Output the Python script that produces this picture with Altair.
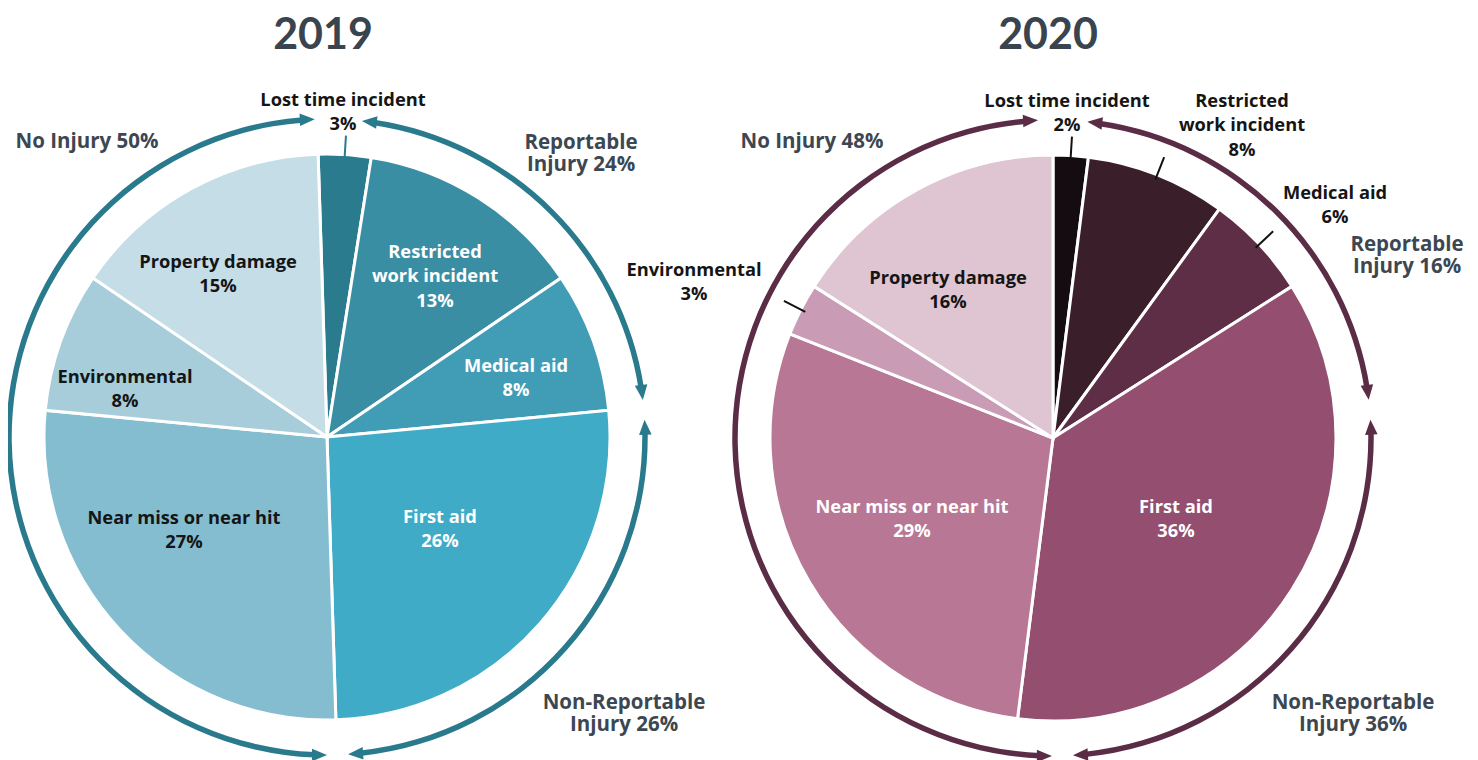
import math
import altair as alt
import pandas as pd

# ---------------- data ----------------
categories = ["Lost time incident", "Restricted work incident", "Medical aid",
              "First aid", "Near miss or near hit", "Environmental", "Property damage"]
values_2019 = [3, 13, 8, 26, 27, 8, 15]
values_2020 = [2, 8, 6, 36, 29, 3, 16]

groups = ["No Injury", "Reportable Injury", "Non-Reportable Injury"]
group_pct_2019 = [50, 24, 26]
group_pct_2020 = [48, 16, 36]

# outer arrow arcs, tip-to-tip, degrees clockwise from 12 o'clock
arc_start_2019 = [180.0, 6.3, 86.9]
arc_end_2019 = [357.8, 83.3, 176.2]
arc_start_2020 = [180.2, 6.2, 86.7]
arc_end_2020 = [357.3, 83.1, 176.4]

# ---------------- styles / layout ----------------
W, H = 1462, 752
colors_2019 = ["#2b7b8f", "#3a8ea4", "#419cb6", "#40abc7", "#84bdd0", "#a7cdda", "#c5dde7"]
colors_2020 = ["#140c10", "#3a1f2b", "#5d2e46", "#934e70", "#b77795", "#c99bb5", "#dfc4d1"]
ring_color = {"2019": "#2a7a8e", "2020": "#5b2c46"}
leader_color = {"2019": "#2a7a8e", "2020": "#111111"}
centers = {"2019": (319, 429), "2020": (1045, 430)}
rotation = {"2019": -1.8, "2020": 0.0}
PIE_R = 283
RING_R = 318
RING_W = 5.5
ARROW_BACK = 2.2  # degrees the ring stops short of an arrow tip
SLICE_LH = 24.5
GROUP_LH = 22

years = {
    "2019": (values_2019, colors_2019, arc_start_2019, arc_end_2019),
    "2020": (values_2020, colors_2020, arc_start_2020, arc_end_2020),
}

theta_scale = alt.Scale(domain=[0, 360], range=[0, 2 * math.pi], nice=False, zero=False)
xs = alt.Scale(domain=[0, W], range=[0, W], nice=False, zero=False)
ys = alt.Scale(domain=[0, H], range=[0, H], nice=False, zero=False)


def polar(cx, cy, r, deg):
    a = math.radians(deg)
    return cx + r * math.sin(a), cy - r * math.cos(a)


layers = []
arrow_rows = []
leader_rows = []
leader_cats = {"2019": ["Lost time incident"],
               "2020": ["Lost time incident", "Restricted work incident", "Medical aid", "Environmental"]}

for yr, (vals, cols, a0s, a1s) in years.items():
    cx, cy = centers[yr]
    rows = []
    cum = 0.0
    for cat, v, c in zip(categories, vals, cols):
        t0 = cum * 3.6 + rotation[yr]
        cum += v
        t1 = cum * 3.6 + rotation[yr]
        rows.append({"category": cat, "value": v, "t0": t0, "t1": t1, "color": c})
        if cat in leader_cats[yr]:
            mid = (t0 + t1) / 2
            x1, y1 = polar(cx, cy, 278, mid)
            x2, y2 = polar(cx, cy, 302, mid)
            leader_rows.append({"x": x1, "y": y1, "x2": x2, "y2": y2, "c": leader_color[yr]})
    sdf = pd.DataFrame(rows)
    layers.append(
        alt.Chart(sdf).mark_arc(outerRadius=PIE_R, innerRadius=0, stroke="white", strokeWidth=3).encode(
            x=alt.value(cx), y=alt.value(cy),
            theta=alt.Theta("t0:Q", scale=theta_scale), theta2="t1:Q",
            color=alt.Color("color:N", scale=None),
            tooltip=["category:N", "value:Q"],
        )
    )
    ring = pd.DataFrame({"group": groups, "a0": a0s, "a1": a1s})
    ring["r0"] = ring["a0"] + ARROW_BACK
    ring["r1"] = ring["a1"] - ARROW_BACK
    layers.append(
        alt.Chart(ring).mark_arc(innerRadius=RING_R - RING_W / 2, outerRadius=RING_R + RING_W / 2,
                                 color=ring_color[yr]).encode(
            x=alt.value(cx), y=alt.value(cy),
            theta=alt.Theta("r0:Q", scale=theta_scale), theta2="r1:Q",
        )
    )
    for a0, a1 in zip(a0s, a1s):
        px, py = polar(cx, cy, RING_R, a0)
        arrow_rows.append({"px": px, "py": py, "rot": (a0 + 270) % 360, "c": ring_color[yr]})
        px, py = polar(cx, cy, RING_R, a1)
        arrow_rows.append({"px": px, "py": py, "rot": (a1 + 90) % 360, "c": ring_color[yr]})

arrows = pd.DataFrame(arrow_rows)
layers.append(
    alt.Chart(arrows).mark_point(shape="M0,0L0.42,1L-0.42,1Z", size=900, filled=True,
                                 opacity=1, strokeWidth=0).encode(
        x=alt.X("px:Q", scale=xs, axis=None),
        y=alt.Y("py:Q", scale=ys, axis=None),
        angle=alt.Angle("rot:Q", scale=None),
        color=alt.Color("c:N", scale=None),
    )
)

leaders = pd.DataFrame(leader_rows)
layers.append(
    alt.Chart(leaders).mark_rule(strokeWidth=2).encode(
        x=alt.X("x:Q", scale=xs, axis=None), y=alt.Y("y:Q", scale=ys, axis=None),
        x2="x2:Q", y2="y2:Q",
        color=alt.Color("c:N", scale=None),
    )
)

# ---------------- labels (x, y = centre of the text block) ----------------
DARK = "#151515"
SLATE = "#3c4751"
slice_labels = pd.DataFrame([
    # 2019
    {"x": 335, "y": 105, "t": "Lost time incident\n3%", "c": DARK},
    {"x": 427, "y": 269, "t": "Restricted\nwork incident\n13%", "c": "white"},
    {"x": 508, "y": 371, "t": "Medical aid\n8%", "c": "white"},
    {"x": 432, "y": 522, "t": "First aid\n26%", "c": "white"},
    {"x": 176, "y": 523, "t": "Near miss or near hit\n27%", "c": DARK},
    {"x": 117, "y": 382, "t": "Environmental\n8%", "c": DARK},
    {"x": 210, "y": 267, "t": "Property damage\n15%", "c": DARK},
    # 2020
    {"x": 1059, "y": 106, "t": "Lost time incident\n2%", "c": DARK},
    {"x": 1234, "y": 118, "t": "Restricted\nwork incident\n8%", "c": DARK},
    {"x": 1327, "y": 198, "t": "Medical aid\n6%", "c": DARK},
    {"x": 686, "y": 275, "t": "Environmental\n3%", "c": DARK},
    {"x": 940, "y": 283, "t": "Property damage\n16%", "c": DARK},
    {"x": 904, "y": 512, "t": "Near miss or near hit\n29%", "c": "white"},
    {"x": 1168, "y": 512, "t": "First aid\n36%", "c": "white"},
])
slice_labels["lines"] = slice_labels["t"].str.split("\n")
slice_labels["y0"] = slice_labels["y"] - (slice_labels["lines"].str.len() - 1) * SLICE_LH / 2

group_labels = pd.DataFrame([
    {"x": 79, "y": 134, "t": f"{groups[0]} {group_pct_2019[0]}%"},
    {"x": 573, "y": 146, "t": f"Reportable\nInjury {group_pct_2019[1]}%"},
    {"x": 616, "y": 706, "t": f"Non-Reportable\nInjury {group_pct_2019[2]}%"},
    {"x": 804, "y": 134, "t": f"{groups[0]} {group_pct_2020[0]}%"},
    {"x": 1399, "y": 248, "t": f"Reportable\nInjury {group_pct_2020[1]}%"},
    {"x": 1345, "y": 706, "t": f"Non-Reportable\nInjury {group_pct_2020[2]}%"},
])
group_labels["lines"] = group_labels["t"].str.split("\n")
group_labels["y0"] = group_labels["y"] - (group_labels["lines"].str.len() - 1) * GROUP_LH / 2

titles = pd.DataFrame([
    {"x": 315, "y": 28, "t": "2019"},
    {"x": 1040, "y": 28, "t": "2020"},
])

layers.append(
    alt.Chart(slice_labels).mark_text(font="Open Sans", fontWeight="bold", fontSize=18.3,
                                      lineHeight=SLICE_LH, baseline="middle", align="center").encode(
        x=alt.X("x:Q", scale=xs, axis=None), y=alt.Y("y0:Q", scale=ys, axis=None),
        text="lines", color=alt.Color("c:N", scale=None),
    )
)
layers.append(
    alt.Chart(group_labels).mark_text(font="Open Sans", fontWeight="bold", fontSize=20.5,
                                      lineHeight=GROUP_LH, baseline="middle", align="center",
                                      color=SLATE).encode(
        x=alt.X("x:Q", scale=xs, axis=None), y=alt.Y("y0:Q", scale=ys, axis=None),
        text="lines",
    )
)
layers.append(
    alt.Chart(titles).mark_text(font="Lato", fontWeight="bold", fontSize=43,
                                baseline="middle", align="center", color="#39444e").encode(
        x=alt.X("x:Q", scale=xs, axis=None), y=alt.Y("y:Q", scale=ys, axis=None),
        text="t:N",
    )
)

chart = alt.layer(*layers).properties(
    width=W, height=H, padding=0, autosize=alt.AutoSizeParams(type="none"), background="white"
).configure_view(strokeWidth=0)

chart.save("out.html", embed_options={"renderer": "svg", "actions": False})
